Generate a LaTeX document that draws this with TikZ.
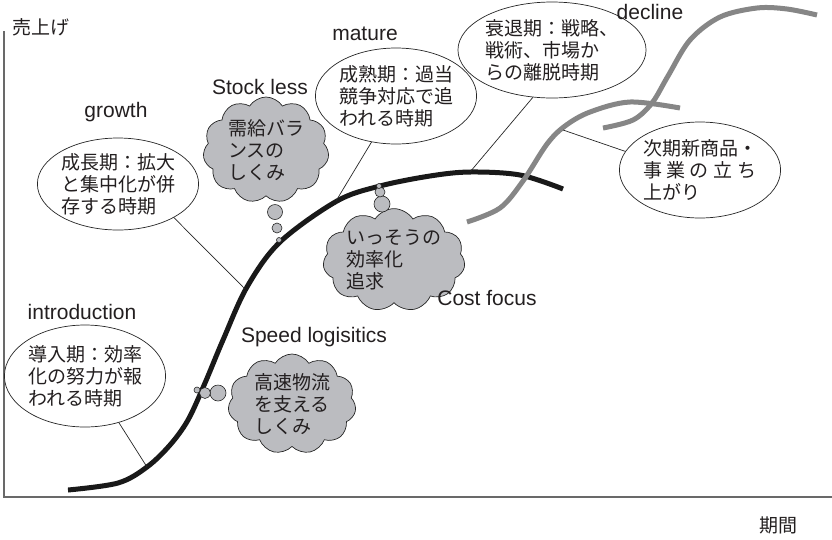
\documentclass[tikz,border=0pt]{standalone}
\usepackage{fontspec}
\setmainfont{Liberation Sans}
\newfontfamily\jpfont{Noto Sans CJK JP}
\usetikzlibrary{shapes.geometric,shapes.symbols}
\definecolor{cloudgray}{RGB}{187,188,192}
\definecolor{curvegray}{RGB}{134,134,134}
\definecolor{axisgray}{RGB}{105,105,105}
\definecolor{txt}{RGB}{35,31,32}
\newcommand\jpsize{\jpfont\fontsize{19}{22}\selectfont}
\newcommand\latsize{\fontsize{21}{24}\selectfont}
\tikzset{
  axisline/.style={draw=axisgray, line width=1.5pt},
  lifecurve/.style={draw=black!90, line width=5pt},
  nextcurve/.style={draw=curvegray, line width=5pt},
  link/.style={draw=black!85, line width=0.7pt},
  bubble/.style={ellipse, draw=black!85, line width=0.7pt, fill=white, align=left,
    font=\jpsize, text=txt, inner sep=0pt},
  thought/.style={cloud, cloud puffs=11, cloud puff arc=115, cloud ignores aspect,
    draw=black!85, fill=cloudgray, line width=0.7pt, align=left, font=\jpsize,
    text=txt, inner sep=0pt},
  puff/.style={circle, draw=black!85, fill=cloudgray, line width=0.6pt, inner sep=0pt},
  lbl/.style={font=\latsize, text=txt, anchor=base, inner sep=0pt},
  jlbl/.style={font=\jpsize, text=txt, inner sep=0pt},
}
\begin{document}
\begin{tikzpicture}[x=1pt,y=-1pt]
\useasboundingbox (0,0) rectangle (832,539);
% axes
\coordinate (ytop) at (4,31);
\coordinate (orig) at (4,497);
\coordinate (xend) at (832,497);
\draw[axisline] (ytop) -- (orig) -- (xend);
\node[jlbl] (ylab) at (41,27) {売上げ};
\node[jlbl] (xlab) at (778,525) {期間};

% main life cycle curve
\draw[lifecurve] plot[smooth, tension=0.55] coordinates {(68,490) (118,483) (147,467) (170,445) (188,420) (205,383) (223,340) (247,287) (280,242) (337,201) (380,186) (430,176) (470,172) (520,175) (563,189)};
% next-generation curves
\draw[nextcurve] plot[smooth, tension=0.55] coordinates {(467,222) (500,208) (523,181) (547,144) (565,126) (590,112) (630,102) (680,108)};
\draw[nextcurve] plot[smooth, tension=0.55] coordinates {(603,128) (633,120) (652,103) (668,76) (690,40) (720,17) (757,8) (787,9) (817,15)};

% points on curves
\coordinate (cintro) at (147,467);
\coordinate (cgrowth) at (245,289);
\coordinate (cmature) at (336,201);
\coordinate (cdecline) at (470,172);
\coordinate (cnext) at (563,130);

% ellipses
\node[bubble, minimum width=146pt, minimum height=102pt] (eintro) at (85,376)
  {導入期：効率\\化の努力が報\\われる時期};
\node[bubble, minimum width=150pt, minimum height=92pt] (egrowth) at (118,184)
  {成長期：拡大\\と集中化が併\\存する時期};
\node[bubble, minimum width=148pt, minimum height=96pt] (emature) at (396,96)
  {成熟期：過当\\競争対応で追\\われる時期};
\node[bubble, minimum width=150pt, minimum height=96pt] (edecline) at (552,50)
  {衰退期：戦略、\\戦術、市場か\\らの離脱時期};
\node[bubble, minimum width=150pt, minimum height=96pt] (enext) at (700,170)
  {次期新商品・\\事\hspace{4.5pt}業\hspace{4.5pt}の\hspace{4.5pt}立\hspace{4.5pt}ち\\上がり};

\draw[link] (eintro.-54) -- (cintro);
\draw[link] (egrowth.-31) -- (cgrowth);
\draw[link] (emature.-118) -- (cmature);
\draw[link] (edecline.-112) -- (cdecline);
\draw[link] (enext.166) -- (cnext);

% clouds
\node[thought, minimum width=126pt, minimum height=106pt] (cstock) at (266,150)
  {需給バラ\\ンスの\\しくみ};
\node[thought, minimum width=127pt, minimum height=102pt] (ccost) at (394,260)
  {いっそうの\\効率化\\追求};
\node[thought, minimum width=128pt, minimum height=100pt] (cspeed) at (292,404)
  {高速物流\\を支える\\しくみ};

\node[puff, minimum size=15pt] (s1) at (275,212) {};
\node[puff, minimum size=10pt] (s2) at (277,228) {};
\node[puff, minimum size=5pt] (s3) at (279,240) {};
\node[puff, minimum size=16pt] (k1) at (382,204) {};
\node[puff, minimum size=10pt] (k2) at (380,192) {};
\node[puff, minimum size=5pt] (k3) at (379,186) {};
\node[puff, minimum size=16pt] (p1) at (218,393) {};
\node[puff, minimum size=11pt] (p2) at (205,393) {};
\node[puff, minimum size=6pt] (p3) at (197,390) {};

% stage labels
\node[lbl] (lintro) at (82,319) {introduction};
\node[lbl] (lgrowth) at (116,117) {growth};
\node[lbl] (lstock) at (260,94) {Stock less};
\node[lbl] (lmature) at (365,40) {mature};
\node[lbl] (ldecline) at (650,19) {decline};
\node[lbl] (lspeed) at (314,342) {Speed logisitics};
\node[lbl] (lcost) at (487,305) {Cost focus};
\end{tikzpicture}
\end{document}
